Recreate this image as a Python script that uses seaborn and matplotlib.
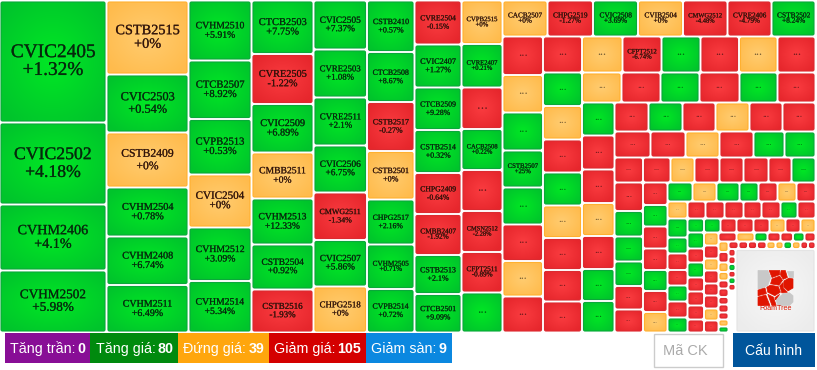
import numpy as np
import matplotlib
matplotlib.use("Agg")
import matplotlib.pyplot as plt
import matplotlib.patheffects as pe
from matplotlib.font_manager import FontProperties
from matplotlib.patches import FancyBboxPatch, Polygon, Rectangle
from matplotlib.textpath import TextPath
import seaborn as sns

# ---- data: sizes are relative shares inside their group, changes in % -----
H = None  # tile whose name is hidden ("...") because it is too small
col1_codes = ["CVIC2405", "CVIC2502", "CVHM2406", "CVHM2502"]
col1_changes = [1.32, 4.18, 4.1, 5.98]
col1_sizes = [122, 82, 66, 62]
col2_codes = ["CSTB2515", "CVIC2503", "CSTB2409", "CVHM2504", "CVHM2408", "CVHM2511"]
col2_changes = [0, 0.54, 0, 0.78, 6.74, 6.49]
col2_sizes = [74, 58, 55, 49, 48.5, 47.5]
col3_codes = ["CVHM2510", "CTCB2507", "CVPB2513", "CVIC2504", "CVHM2512", "CVHM2514"]
col3_changes = [5.91, 8.92, 0.53, 0, 3.09, 5.34]
col3_sizes = [60, 58.5, 55.5, 53, 53.5, 51.5]
col4_codes = ["CTCB2503", "CVRE2505", "CVIC2509", "CMBB2511", "CVHM2513", "CSTB2504", "CSTB2516"]
col4_changes = [7.75, -1.22, 6.89, 0, 12.33, 0.92, -1.93]
col4_sizes = [53.5, 50, 48.5, 46, 46, 45, 43]
col5_codes = ["CVIC2505", "CVRE2503", "CVRE2511", "CVIC2506", "CMWG2511", "CVIC2507", "CHPG2518"]
col5_changes = [7.37, 1.08, 2.1, 6.75, -1.34, 5.86, 0]
col5_sizes = [49, 48, 48, 47, 47.5, 46.5, 46]
col6_codes = ["CSTB2410", "CTCB2508", "CSTB2517", "CSTB2501", "CHPG2517", "CVHM2505", "CVPB2514"]
col6_changes = [0.57, 8.67, -0.27, 0, 2.16, 0.71, 0.72]
col6_sizes = [51.5, 50, 49, 48.5, 45, 44.5, 43.5]
col7_codes = ["CVRE2504", "CVIC2407", "CTCB2509", "CSTB2514", "CHPG2409", "CMBB2407", "CSTB2513", "CTCB2501"]
col7_changes = [-0.15, 1.27, 9.28, 0.32, -0.64, -1.92, 2.1, 9.09]
col7_sizes = [44, 43, 42.5, 43, 41, 41, 39, 38.5]
col8_codes = ["CVPB2515", "CVRE2407", H, "CACB2508", H, "CMSN2512", "CFPT2511", H]
col8_changes = [0, 0.21, -1, 0.22, -1, -2.28, -0.89, 1]
col8_sizes = [43.5, 43.5, 41.5, 41, 41, 41, 40.5, 40]
top_codes = ["CACB2507", "CHPG2519", "CVIC2508", "CVIB2504", "CMWG2512", "CVRE2406", "CSTB2502"]
top_changes = [0, -1.27, 3.69, 0, -4.48, -4.79, 8.24]
top_sizes = [45, 45.5, 45, 45, 44.5, 44, 44]
colA_codes = [H, H, H, "CSTB2507", H, H, H, H]
colA_changes = [-1, 0, 1, 25, 1, -1, 0, -1]
colA_sizes = [38.5, 37.5, 38, 37, 37, 36.5, 35.5, 36]
colB_changes = [-1, 1, 0, -1, 1, 0, -1, -1, -1]
colB_sizes = [36, 33.5, 33.5, 33, 33, 32.5, 32, 31.5, 31]
row2_codes = [H, "CFPT2512", H, H, H, H]
row2_changes = [0, -6.74, 1, -1, 0, -1]
row2_sizes = [40.5, 39, 39, 38.5, 38.5, 38]
row3_changes = [0, -1, 1, -1, 1, -1]
row3_sizes = [39.5, 39, 39, 40, 38, 38]
colC_changes = [1, -1, -1, 0, -1, 1, 1]
colC_sizes = [33, 34, 33.5, 33, 33, 32, 31.5]
rowA_changes = [-1, 1, -1, 0, -1, -1]
rowA_sizes = [34, 34, 33, 34, 33, 33]
rowB_changes = [-1, -1, 0, -1, 1, 1]
rowB_sizes = [36, 35, 34, 34, 31, 31]
rowC_changes = [-1, -1, 0, -1, -1, -1, -1, 1]
rowC_sizes = [28.5, 27.5, 24, 25, 24, 25, 23, 24]
colD_changes = [-1, 1, 1, 1, -1, -1]
colD_sizes = [28.5, 25.5, 25, 24.5, 23.5, 23]
colE_changes = [-1, 1, -1, -1, 1, -1, 0]
colE_sizes = [22.5, 21.5, 22, 21.5, 21, 21, 20.5]
rowD_changes = [1, 0, 1, 1, -1, 0, -1]
rowD_sizes = [25, 24, 23, 19, 19, 19, 19]
rowE_changes = [0, -1, -1, -1, -1, -1, 1, -1]
rowE_sizes = [20, 18, 19, 19, 18, 19, 17, 18]
colF_changes = [1, 1, -1, -1, 1, -1, 1]
colF_sizes = [19, 16, 16.5, 15.5, 16, 16, 15]
rowF_changes = [1, 1, -1, -1, -1, 0, -1, 0]
rowF_sizes = [16.5, 16.5, 16, 17, 16, 16, 15, 15]
colG_changes = [1, -1, 1, -1, -1, -1, -1]
colG_sizes = [16, 14, 15, 14, 14, 14, 13]
colH_changes = [0, -1, 0, -1, -1, -1, 0, -1]
colH_sizes = [13, 13, 12, 13, 12, 13, 12, 12]
rowG_changes = [-1, 0, 1, -1, -1, 1, -1]
rowG_sizes = [18, 18, 13, 13, 12.5, 11.5, 11]
colI_changes = [0, -1, 0, 0, -1, -1, -1, -1, -1, 0, 1]
colI_sizes = [10.5, 10.5, 9.5, 8.5, 8, 8.5, 7.5, 8, 7, 7, 6]
rowH_changes = [-1, -1, -1, -1, 0, 0, 1, 0, -1, -1]
rowH_sizes = [10, 9.5, 9, 9.5, 9, 8, 8.5, 8.5, 7.5, 7.5]
colJ_changes = [-1, -1, 1, -1, 1, -1, np.nan]
colJ_sizes = [7.5, 7.5, 7, 6.5, 6.5, 6.5, 42]

legend_labels = ["Tăng trần:", "Tăng giá:", "Đứng giá:", "Giảm giá:", "Giảm sàn:"]
legend_counts = [0, 80, 39, 105, 9]
legend_colors = ["#880e96", "#008a0e", "#ffa60d", "#d40000", "#0b88e0"]

# peel order: axis, groups taken off with their share, share left over
peels = [
    ("x", [((col1_codes, col1_changes, col1_sizes), 107), ((col2_codes, col2_changes, col2_sizes), 82),
           ((col3_codes, col3_changes, col3_sizes), 63), ((col4_codes, col4_changes, col4_sizes), 62),
           ((col5_codes, col5_changes, col5_sizes), 53.5), ((col6_codes, col6_changes, col6_sizes), 47.5),
           ((col7_codes, col7_changes, col7_sizes), 47), ((col8_codes, col8_changes, col8_sizes), 41)], 313),
    ("y", [((top_codes, top_changes, top_sizes), 36)], 296),
    ("x", [((colA_codes, colA_changes, colA_sizes), 40.5), ((None, colB_changes, colB_sizes), 39)], 233.5),
    ("y", [((row2_codes, row2_changes, row2_sizes), 36), ((None, row3_changes, row3_sizes), 30)], 230),
    ("x", [((None, colC_changes, colC_sizes), 32.5)], 201),
    ("y", [((None, rowA_changes, rowA_sizes), 29), ((None, rowB_changes, rowB_sizes), 26),
           ((None, rowC_changes, rowC_sizes), 25)], 150),
    ("x", [((None, colD_changes, colD_sizes), 28.5), ((None, colE_changes, colE_sizes), 24.5)], 148),
    ("y", [((None, rowD_changes, rowD_sizes), 19), ((None, rowE_changes, rowE_sizes), 17)], 114),
    ("x", [((None, colF_changes, colF_sizes), 20)], 128),
    ("y", [((None, rowF_changes, rowF_sizes), 14)], 100),
    ("x", [((None, colG_changes, colG_sizes), 16.5), ((None, colH_changes, colH_sizes), 14.5)], 97),
    ("y", [((None, rowG_changes, rowG_sizes), 9)], 91),
    ("x", [((None, colI_changes, colI_sizes), 10)], 87),
    ("y", [((None, rowH_changes, rowH_sizes), 7.5)], 83.5),
    ("x", [((None, colJ_changes, colJ_sizes), 7)], 80),
]

# ---- drawing ----------------------------------------------------------------
sns.set_theme(style="white")
plt.rcParams["font.family"] = ["Liberation Serif", "DejaVu Sans"]
W, H_PX = 817, 370
fig = plt.figure(figsize=(W / 100, H_PX / 100), dpi=100)
ax = fig.add_axes([0, 0, 1, 1])
ax.set_axis_off()

STYLES = {
    1: (sns.blend_palette(["#00e824", "#00c42c"], as_cmap=True), "#0aa83a"),
    -1: (sns.blend_palette(["#fa3c40", "#e6262c"], as_cmap=True), "#dc2a30"),
    0: (sns.blend_palette(["#ffcc70", "#ffbb4c"], as_cmap=True), "#ffb030"),
}
yy, xx = np.mgrid[-1:1:16j, -1:1:16j]
RADIAL = np.clip(np.hypot(xx, yy) / 1.35, 0, 1)
SERIF = FontProperties(family="Liberation Serif")
INSET = 1.5
PX = 0.72  # points per pixel at 100 dpi


def em_width(s):
    return TextPath((0, 0), s, size=1, prop=SERIF).get_extents().width


def split(rect, sizes, axis):
    x0, y0, x1, y1 = rect
    total = sum(sizes)
    out, pos = [], x0 if axis == "x" else y0
    span = (x1 - x0) if axis == "x" else (y1 - y0)
    for s in sizes:
        step = span * s / total
        out.append((pos, y0, pos + step, y1) if axis == "x" else (x0, pos, x1, pos + step))
        pos += step
    return out


def draw_tile(rect, code, change):
    if change != change:
        return
    x0, y0, x1, y1 = rect[0] + INSET, rect[1] + INSET, rect[2] - INSET, rect[3] - INSET
    w, h = x1 - x0, y1 - y0
    cmap, edge = STYLES[int(np.sign(change))]
    r = min(1.5, w / 3, h / 3)
    patch = FancyBboxPatch((x0 + r, y0 + r), w - 2 * r, h - 2 * r, boxstyle=f"round,pad={r},rounding_size={r}",
                           fc="none", ec=edge, lw=0.8, zorder=3)
    ax.add_patch(patch)
    im = ax.imshow(RADIAL, cmap=cmap, vmin=0, vmax=1, extent=(x0, x1, y1, y0), aspect="auto",
                   interpolation="bilinear", zorder=2)
    im.set_clip_path(patch)
    cx, cy = (x0 + x1) / 2, (y0 + y1) / 2
    if code:
        label = f"{change:+g}%"
        size = min(0.224 * h, 0.8 * w / em_width(code))
        t = ax.text(cx, cy, f"{code}\n{label}", ha="center", va="center", fontsize=size * PX, linespacing=1.06,
                    color="#06240c" if change > 0 else "#2c1008", alpha=0.85, family="Liberation Serif", zorder=4)
        t.set_path_effects([pe.withStroke(linewidth=0.12 + size * 0.006, foreground=t.get_color())])
    elif h >= 8:
        size = 0.37 * h
        ax.text(cx, cy + 0.05 * size, "...", ha="center", va="baseline", fontsize=size * PX,
                color="#000000", alpha=0.55, family="Liberation Serif", zorder=4)


rest = (-0.5, 0.5, 815.5, 332.5)
for axis, groups, left in peels:
    rects = split(rest, [g[1] for g in groups] + [left], axis)
    for (group, _), rect in zip(groups, rects):
        codes, changes, sizes = group
        codes = codes or [None] * len(sizes)
        for cell, code, change in zip(split(rect, sizes, "y" if axis == "x" else "x"), codes, changes):
            draw_tile(cell, code, change)
    rest = rects[-1]

# logo tile
lx0, ly0, lx1, ly1 = rest[0] + INSET, rest[1] + INSET, rest[2] - INSET, rest[3] - INSET
logo_bg = FancyBboxPatch((lx0 + 1, ly0 + 1), lx1 - lx0 - 2, ly1 - ly0 - 2, boxstyle="round,pad=1,rounding_size=1",
                         fc="none", ec="#e4e4e4", lw=0.8, zorder=3)
ax.add_patch(logo_bg)
im = ax.imshow(RADIAL, cmap=sns.blend_palette(["#f8f8f8", "#ececec"], as_cmap=True), vmin=0, vmax=1,
               extent=(lx0, lx1, ly1, ly0), aspect="auto", interpolation="bilinear", zorder=2)
im.set_clip_path(logo_bg)
logo_grey = [[(0, 0), (28, 0), (36, 20), (28, 42), (10, 52), (0, 52)],
             [(82, 0), (100, 0), (100, 18), (88, 18)],
             [(56, 100), (52, 84), (72, 66), (90, 64), (100, 72), (100, 90), (90, 100)]]
logo_red = [[(32, 0), (62, 0), (62, 12), (40, 20)], [(66, 0), (78, 0), (84, 20), (72, 25), (64, 12)],
            [(40, 24), (62, 16), (70, 28), (60, 42), (36, 38)],
            [(74, 30), (88, 22), (100, 24), (100, 50), (86, 58), (74, 48)],
            [(35, 42), (58, 46), (64, 62), (48, 72), (28, 62), (25, 48)],
            [(62, 44), (72, 34), (72, 50), (84, 62), (68, 64)], [(0, 56), (20, 50), (24, 66), (0, 72)],
            [(0, 76), (22, 70), (34, 100), (0, 100)], [(28, 68), (44, 76), (52, 100), (40, 100)],
            [(48, 78), (62, 68), (50, 84)]]
mx0, my0 = (lx0 + lx1) / 2 - 17.5, ly0 + 20
for polys, col in ((logo_grey, "#c8c8c8"), (logo_red, "#e01500")):
    for poly in polys:
        ax.add_patch(Polygon([(mx0 + px * 0.35, my0 + py * 0.35) for px, py in poly], closed=True, fc=col,
                             ec=col, lw=0.5, zorder=4))
ax.text(mx0 + 17.5, my0 + 38.5, "FoamTree", ha="center", va="center", fontsize=7.2 * PX, color="#d81500",
        family="Liberation Sans", zorder=4)

# legend strip
SANS = FontProperties(family="Liberation Sans")
SANS_B = FontProperties(family="Liberation Sans", weight="bold")
FS = 14.2
x = 5.0
for label, count, color in zip(legend_labels, legend_counts, legend_colors):
    w1 = TextPath((0, 0), label, size=FS, prop=SANS).get_extents().x1 + 0.278 * FS
    w2 = TextPath((0, 0), str(count), size=FS, prop=SANS_B).get_extents().x1
    total = w1 + w2 + 10.6
    ax.add_patch(Rectangle((x, 333), total, 29.7, fc=color, ec="none", zorder=2))
    ax.text(x + 5.3, 353, label, color="white", fontsize=FS * PX, family="Liberation Sans", va="baseline", zorder=3)
    ax.text(x + 5.3 + w1, 353, str(count), color="white", fontsize=FS * PX, family="Liberation Sans",
            fontweight="bold", va="baseline", zorder=3)
    x += total

# input box and button
ax.add_patch(Rectangle((654.5, 333.5), 69, 33, fc="white", ec="#cccccc", lw=1, zorder=2))
ax.text(663, 355, "Mã CK", color="#aaaaaa", fontsize=14.5 * PX, family="Liberation Sans", va="baseline", zorder=3)
ax.add_patch(Rectangle((733, 333), 82, 34, fc="#00559b", ec="none", zorder=2))
ax.text(774, 355, "Cấu hình", color="white", fontsize=14 * PX, family="Liberation Sans", ha="center",
        va="baseline", zorder=3)

ax.set_xlim(0, W)
ax.set_ylim(H_PX, 0)
sns.despine(ax=ax, left=True, bottom=True)
fig.savefig("out.png", dpi=100, facecolor="white")
